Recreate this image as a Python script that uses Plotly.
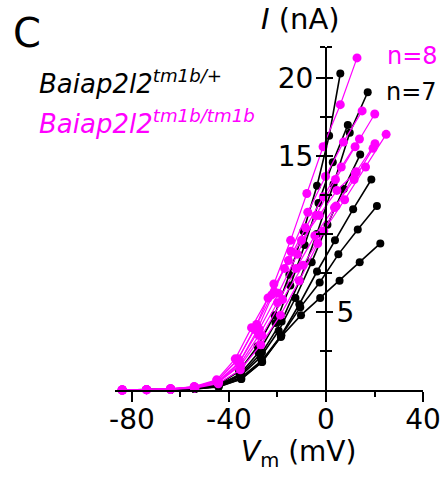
import plotly.graph_objects as go

# ---------------- data ----------------
# Whole-cell I-V curves: membrane potential (mV) and current (nA) per cell
het_V = [
    [-84.0, -74.0, -64.1, -54.2, -44.5, -35.8, -28.2, -21.2, -15.1, -9.3, -3.7, 1.3, 5.9],
    [-84.0, -74.0, -64.0, -54.1, -44.3, -35.0, -26.4, -18.3, -10.9, -3.8, 3.1, 9.8, 17.2],
    [-84.0, -74.0, -64.0, -54.1, -44.4, -35.3, -27.0, -19.5, -12.6, -5.9, 0.6, 7.3, 14.1],
    [-84.0, -74.0, -64.0, -54.1, -44.5, -35.6, -27.8, -20.8, -14.7, -8.8, -3.1, 2.8, 9.0],
    [-84.0, -74.0, -64.0, -54.1, -44.3, -35.0, -26.4, -18.5, -11.0, -3.7, 3.7, 11.2, 18.7],
    [-84.0, -74.0, -64.0, -54.1, -44.3, -34.9, -26.3, -18.4, -10.6, -2.6, 5.1, 13.1, 21.0],
    [-84.0, -74.0, -64.0, -54.1, -44.3, -35.0, -26.5, -18.6, -10.3, -2.4, 5.6, 13.9, 22.4],
]
het_I = [
    [0, 0.01, 0.04, 0.10, 0.35, 1.2, 2.8, 4.8, 7.4, 10.2, 13.1, 16.3, 20.3],
    [0, 0.01, 0.03, 0.10, 0.30, 1.0, 2.4, 4.4, 7.0, 10.0, 13.2, 16.5, 19.1],
    [0, 0.01, 0.03, 0.08, 0.28, 0.9, 2.1, 3.8, 5.9, 8.2, 10.6, 12.9, 15.1],
    [0, 0.01, 0.03, 0.09, 0.30, 1.0, 2.4, 4.3, 6.7, 9.3, 12.0, 14.6, 17.0],
    [0, 0.01, 0.03, 0.08, 0.25, 0.8, 1.9, 3.5, 5.5, 7.6, 9.6, 11.6, 13.5],
    [0, 0.01, 0.03, 0.07, 0.22, 0.7, 1.8, 3.5, 5.3, 6.9, 8.7, 10.3, 11.8],
    [0, 0.01, 0.03, 0.07, 0.20, 0.7, 1.8, 3.4, 4.8, 5.9, 7.0, 8.2, 9.4],
]
hom_V = [
    [-84.2, -74.0, -64.1, -54.2, -44.7, -36.2, -28.6, -21.5, -14.6, -7.9, -1.2, 5.9, 12.8],
    [-84.0, -74.0, -64.1, -54.2, -44.5, -35.6, -27.5, -19.6, -11.8, -4.1, 3.9, 12.0, 20.1],
    [-84.0, -74.0, -64.1, -54.2, -44.6, -36.0, -28.5, -21.4, -14.5, -7.5, -0.2, 7.2, 14.9],
    [-84.0, -74.0, -64.0, -54.1, -44.3, -35.1, -26.4, -17.9, -9.4, -0.9, 7.7, 16.3, 24.8],
    [-84.0, -74.0, -64.1, -54.2, -44.5, -35.7, -27.7, -20.0, -12.3, -4.6, 3.5, 11.6, 19.4],
    [-84.0, -74.0, -64.1, -54.3, -44.8, -36.6, -29.4, -22.4, -15.5, -8.4, -1.1, 6.3, 13.8],
    [-84.0, -74.0, -64.1, -54.4, -45.1, -37.4, -30.7, -23.9, -17.1, -10.1, -2.8, 4.5, 12.5],
    [-84.0, -74.0, -64.0, -54.1, -44.4, -35.3, -26.9, -18.8, -11.0, -3.4, 4.2, 12.1, 20.2],
]
hom_I = [
    [0, 0.02, 0.08, 0.20, 0.60, 2.0, 4.2, 6.8, 9.6, 12.6, 15.6, 18.3, 21.3],
    [0, 0.02, 0.07, 0.18, 0.55, 1.8, 3.9, 6.2, 8.7, 11.2, 13.5, 15.6, 17.7],
    [0, 0.02, 0.06, 0.17, 0.50, 1.7, 3.8, 6.3, 8.9, 11.4, 13.7, 15.9, 17.9],
    [0, 0.01, 0.05, 0.15, 0.50, 1.6, 3.5, 5.8, 8.0, 10.2, 12.2, 14.3, 16.4],
    [0, 0.02, 0.06, 0.16, 0.50, 1.6, 3.5, 5.6, 7.8, 9.9, 11.7, 13.5, 15.5],
    [0, 0.02, 0.07, 0.20, 0.60, 1.9, 3.9, 6.1, 8.3, 10.4, 12.4, 14.3, 16.1],
    [0, 0.02, 0.08, 0.22, 0.65, 2.0, 4.0, 5.9, 7.8, 9.6, 11.2, 12.8, 14.0],
    [0, 0.01, 0.04, 0.12, 0.40, 1.3, 2.9, 4.8, 7.0, 9.4, 11.8, 13.9, 15.8],
]
x_ticks = [-80, -40, 0, 40]
x_minor = [-60, -20, 20]
y_ticks = [5, 10, 15, 20]
y_minor = [2.5, 7.5, 12.5, 17.5, 22]
y_left_label_vals = [15, 20]
y_right_label_vals = [5]

# ---------------- figure ----------------
W, H = 442, 477
L, R, T, B = 114.7, 19.3, 47.2, 87.0
BLACK = "#000000"
MAG = "#FF00FF"
FONT = "DejaVu Sans, Liberation Sans, Arial, sans-serif"

fig = go.Figure()
for v, i in zip(het_V, het_I):
    fig.add_trace(go.Scatter(x=v, y=i, mode="lines+markers", cliponaxis=False,
                             line=dict(color=BLACK, width=1.6),
                             marker=dict(color=BLACK, size=8), showlegend=False))
for v, i in zip(hom_V, hom_I):
    fig.add_trace(go.Scatter(x=v, y=i, mode="lines+markers", cliponaxis=False,
                             line=dict(color=MAG, width=1.2),
                             marker=dict(color=MAG, size=9), showlegend=False))
# invisible traces to activate the overlaid twins of the y axis
for ax in ["y2", "y3", "y4"]:
    fig.add_trace(go.Scatter(x=[0], y=[0], yaxis=ax, mode="markers",
                             marker=dict(opacity=0), showlegend=False,
                             hoverinfo="skip"))

x_pos = (325.7 - L) / (W - L - R)

tick_common = dict(tickwidth=2, tickcolor=BLACK, showgrid=False, zeroline=False,
                   automargin=False, tickfont=dict(size=28, family=FONT))
minor_common = dict(tickmode="array", tickvals=y_minor, ticks="outside",
                    ticklen=5, tickwidth=2, tickcolor=BLACK)

fig.update_layout(
    width=W, height=H, autosize=False,
    margin=dict(l=L, r=R, t=T, b=B, pad=0, autoexpand=False),
    paper_bgcolor="white", plot_bgcolor="white",
    font=dict(family=FONT, color=BLACK),
    xaxis=dict(range=[-87, 40], tickmode="array", tickvals=x_ticks,
               ticktext=[str(t) for t in x_ticks],
               ticks="outside", ticklen=10,
               minor=dict(tickmode="array", tickvals=x_minor, ticks="outside",
                          ticklen=5, tickwidth=2, tickcolor=BLACK),
               showline=True, linewidth=2, linecolor=BLACK,
               ticklabelstandoff=-7, **tick_common),
    # left half of the crossing ticks (no labels)
    yaxis=dict(range=[0, 22], anchor="free", position=x_pos, side="left",
               tickmode="array", tickvals=y_ticks, showticklabels=False,
               ticks="outside", ticklen=9, minor=minor_common,
               showline=True, linewidth=2, linecolor=BLACK, **tick_common),
    # right half of the crossing ticks (no labels)
    yaxis2=dict(range=[0, 22], anchor="free", position=x_pos, side="right",
                overlaying="y", tickmode="array", tickvals=y_ticks,
                showticklabels=False, ticks="outside", ticklen=6,
                minor=minor_common,
                showline=True, linewidth=2, linecolor=BLACK, **tick_common),
    # labels shown on the left of the axis
    yaxis3=dict(range=[0, 22], anchor="free", position=x_pos, side="left",
                overlaying="y", tickmode="array", tickvals=y_left_label_vals,
                ticktext=[str(v) for v in y_left_label_vals],
                ticks="outside", ticklen=9, showline=False,
                ticklabelstandoff=-2, **tick_common),
    # label shown on the right of the axis
    yaxis4=dict(range=[0, 22], anchor="free", position=x_pos, side="right",
                overlaying="y", tickmode="array", tickvals=y_right_label_vals,
                ticktext=[str(v) for v in y_right_label_vals],
                ticks="outside", ticklen=6, showline=False,
                ticklabelstandoff=-2, **tick_common),
)

pw, ph = W - L - R, H - T - B


def px(xp):
    return (xp - L) / pw


def py(yp):
    return (H - B - yp) / ph


def note(text, x, y, size, color=BLACK, xanchor="left"):
    fig.add_annotation(text=text, x=px(x), y=py(y), xref="paper", yref="paper",
                       xanchor=xanchor, yanchor="middle", showarrow=False,
                       font=dict(size=size, color=color, family=FONT))


note("C", 11, 33, 40)
note("<i>Baiap2l2</i><sup><i>tm1b/+</i></sup>", 37, 82, 26)
note("<i>Baiap2l2</i><sup><i>tm1b/tm1b</i></sup>", 37, 122, 26, color=MAG)
note("n=8", 385, 56, 24, color=MAG)
note("n=7", 384, 92, 24)
note("<i>I</i> (nA)", 300, 19, 29, xanchor="center")
note("<i>V</i><sub>m</sub> (mV)", 298, 453, 28, xanchor="center")

fig.write_html("out.html", config={"displayModeBar": False},
               post_script="document.body.style.margin='0px';")
